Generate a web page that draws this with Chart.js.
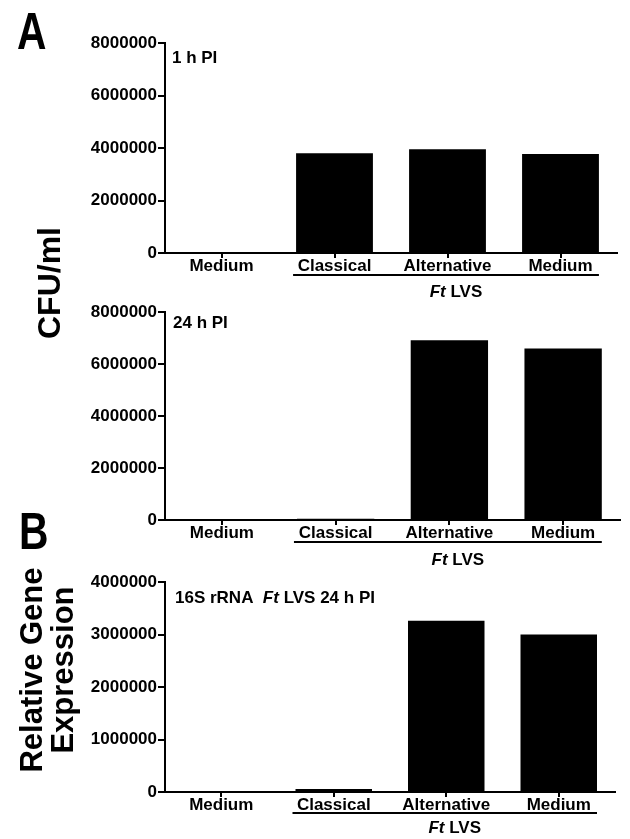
<!DOCTYPE html>
<html>
<head>
<meta charset="utf-8">
<script src="https://cdn.jsdelivr.net/npm/chart.js@4"></script>
<style>
  body { margin: 0; background: #fff; }
  #wrap { position: relative; width: 630px; height: 839px; overflow: hidden; font-family: "Liberation Sans", Arial, sans-serif; font-weight: bold; color: #000; }
  canvas { position: absolute; left: 0; }
  .letter { position: absolute; font-size: 51px; line-height: 1; transform: scaleX(0.8); transform-origin: left top; }
  .ytitle { position: absolute; transform: translate(-50%, -50%) rotate(-90deg); white-space: nowrap; text-align: center; }
</style>
</head>
<body>
<div id="wrap">
  <canvas id="c1h" width="630" height="300" style="top:0"></canvas>
  <canvas id="c24h" width="630" height="270" style="top:300px"></canvas>
  <canvas id="cRna" width="630" height="269" style="top:570px"></canvas>
  <div class="letter" style="left:17px; top:6px">A</div>
  <div class="letter" style="left:19px; top:506px">B</div>
  <div class="ytitle" style="left:49px; top:283px; font-size:32px; line-height:1">CFU/ml</div>
  <div class="ytitle" style="left:47px; top:670px; font-size:31px; line-height:31px">Relative Gene<br>Expression</div>
</div>
<script>
// categorias del eje x
const categories = ['Medium', 'Classical', 'Alternative', 'Medium'];

// valores
const cfu1h = [0, 3800000, 3950000, 3770000];
const cfu24h = [0, 50000, 6910000, 6600000];
const rrna24h = [0, 55000, 3260000, 3000000];

// ejes y: maximo y paso
const cfuMax = 8000000, cfuStep = 2000000;
const rnaMax = 4000000, rnaStep = 1000000;

// textos de anotacion (partes en cursiva marcadas con i:true)
const title1h = [{ t: '1 h PI' }];
const title24h = [{ t: '24 h PI' }];
const titleRna = [{ t: '16S rRNA  ' }, { t: 'Ft', i: true }, { t: ' LVS 24 h PI' }];
const groupLabel = [{ t: 'Ft', i: true }, { t: ' LVS' }];

const FONT = '"Liberation Sans", Arial, sans-serif';
Chart.defaults.font.family = FONT;
Chart.defaults.font.weight = 'bold';
Chart.defaults.font.size = 17;
Chart.defaults.color = '#000';

function drawParts(ctx, parts, x, y, align) {
    const fontOf = p => (p.i ? 'italic ' : '') + 'bold 17px ' + FONT;
    let total = 0;
    parts.forEach(p => { ctx.font = fontOf(p); total += ctx.measureText(p.t).width; });
    let cx = align === 'center' ? x - total / 2 : x;
    ctx.textAlign = 'left';
    parts.forEach(p => {
        ctx.font = fontOf(p);
        ctx.fillText(p.t, cx, y);
        cx += ctx.measureText(p.t).width;
    });
}

// Dibuja el titulo interior, la linea de grupo y "Ft LVS"
const notes = {
    id: 'notes',
    afterDraw(chart, args, o) {
        const ctx = chart.ctx, a = chart.chartArea;
        ctx.save();
        ctx.fillStyle = '#000';
        ctx.textBaseline = 'alphabetic';
        drawParts(ctx, o.title, a.left + o.titleDx, a.top + o.titleDy, 'left');
        const meta = chart.getDatasetMeta(0);
        const b1 = meta.data[1], b3 = meta.data[3];
        const x0 = b1.x - b1.width / 2 - 3, x1 = b3.x + b3.width / 2;
        ctx.fillRect(x0, a.bottom + o.lineDy - 1, x1 - x0, 2);
        drawParts(ctx, groupLabel, (x0 + x1) / 2 + 10, a.bottom + o.groupDy, 'center');
        ctx.restore();
    }
};

function makeChart(id, values, cfg) {
    return new Chart(document.getElementById(id), {
        type: 'bar',
        data: {
            labels: categories,
            datasets: [{
                data: values,
                backgroundColor: '#000',
                borderWidth: 0,
                barPercentage: 0.68,
                categoryPercentage: 1
            }]
        },
        options: {
            responsive: false,
            animation: false,
            layout: { padding: { top: cfg.padTop, right: cfg.padRight, left: 0, bottom: 0 } },
            plugins: {
                legend: { display: false },
                tooltip: { enabled: false },
                notes: cfg.notes
            },
            scales: {
                x: {
                    grid: { display: true, drawOnChartArea: false, offset: false, tickLength: 5, color: '#000', lineWidth: 2 },
                    border: { color: '#000', width: 2 },
                    ticks: { padding: 0, maxRotation: 0, autoSkip: false, font: { lineHeight: 1 } },
                    afterFit: s => { s.height = cfg.xHeight; }
                },
                y: {
                    min: 0,
                    max: cfg.max,
                    grid: { display: true, drawOnChartArea: false, tickLength: 7, color: '#000', lineWidth: 2 },
                    border: { color: '#000', width: 2 },
                    ticks: { stepSize: cfg.step, padding: 1, callback: v => String(v) },
                    afterFit: s => { s.width = 165; }
                }
            }
        },
        plugins: [notes]
    });
}

makeChart('c1h', cfu1h, {
    max: cfuMax, step: cfuStep, padTop: 43, padRight: 13, xHeight: 47,
    notes: { title: title1h, titleDx: 7, titleDy: 20, lineDy: 22, groupDy: 44 }
});
makeChart('c24h', cfu24h, {
    max: cfuMax, step: cfuStep, padTop: 12, padRight: 10, xHeight: 50,
    notes: { title: title24h, titleDx: 8, titleDy: 16, lineDy: 22, groupDy: 45 }
});
makeChart('cRna', rrna24h, {
    max: rnaMax, step: rnaStep, padTop: 12, padRight: 15, xHeight: 47,
    notes: { title: titleRna, titleDx: 10, titleDy: 21, lineDy: 21, groupDy: 41 }
});
</script>
</body>
</html>
